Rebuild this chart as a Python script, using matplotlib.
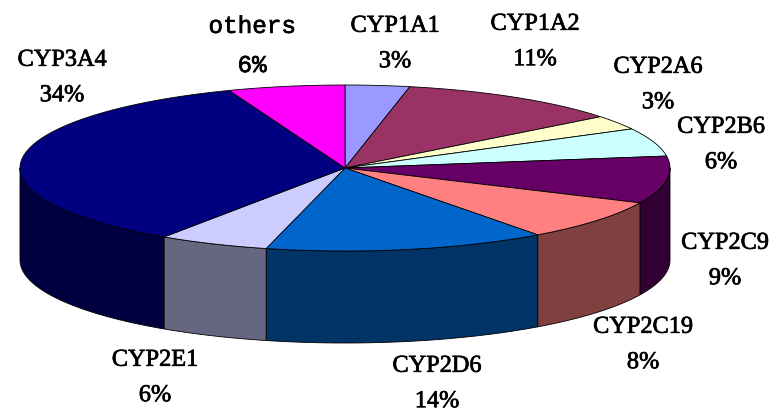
import numpy as np
import matplotlib
matplotlib.use("Agg")
import matplotlib.pyplot as plt
import matplotlib.patheffects as pe
from matplotlib.patches import Polygon

# clockwise from 12 o'clock
names = ['CYP1A1', 'CYP1A2', 'CYP2A6', 'CYP2B6', 'CYP2C9', 'CYP2C19', 'CYP2D6', 'CYP2E1', 'CYP3A4', 'others']
values = [3.2, 11.2, 2.8, 5.5, 9.2, 8.0, 14.0, 5.5, 34.8, 5.8]
labels = ['3%', '11%', '3%', '6%', '9%', '8%', '14%', '6%', '34%', '6%']
top_colors = ['#9999ff', '#993366', '#ffffcc', '#ccffff', '#660066', '#ff8080', '#0066cc', '#ccccff', '#000080', '#ff00ff']
side_colors = ['#6b6bb3', '#6b2447', '#b3b38f', '#8fb3b3', '#330033', '#804040', '#003366', '#666680', '#000040', '#b300b3']
label_x = [395, 535, 658, 721, 725, 643, 437, 155, 62, 252]
label_y = [44, 42, 85, 145, 261, 345, 384, 378, 78, 46]

cx, cy, rx, ry, depth = 345, 168, 325, 83, 92

fig = plt.figure(figsize=(7.74, 4.12), dpi=100)
ax = fig.add_axes([0, 0, 1, 1])
ax.set_xlim(0, 774)
ax.set_ylim(412, 0)
ax.axis('off')


def rim(a0, a1):
    t = np.radians(np.linspace(a0, a1, 80))
    return cx + rx * np.sin(t), cy - ry * np.cos(t)


edges = np.concatenate([[0], np.cumsum(values)]) * 360 / sum(values)

# outer walls, only the front half of the ellipse shows
for i in range(len(values)):
    a0, a1 = max(edges[i], 90), min(edges[i + 1], 270)
    if a1 <= a0:
        continue
    x, y = rim(a0, a1)
    pts = np.r_[np.c_[x, y], np.c_[x[::-1], y[::-1] + depth]]
    ax.add_patch(Polygon(pts, fc=side_colors[i], ec='black', lw=0.6))

# top face
for i in range(len(values)):
    x, y = rim(edges[i], edges[i + 1])
    pts = np.r_[[[cx, cy]], np.c_[x, y]]
    ax.add_patch(Polygon(pts, fc=top_colors[i], ec='black', lw=0.6))

for n, p, lx, ly in zip(names, labels, label_x, label_y):
    font = 'Liberation Mono' if n == 'others' else 'Liberation Serif'
    t = ax.text(lx, ly, n + '\n' + p, ha='center', va='center', fontsize=17.5,
                family=font, linespacing=1.9, color='black')
    # the source text is a heavier bitmap font
    t.set_path_effects([pe.withStroke(linewidth=0.5, foreground='black')])

fig.savefig('out.png', dpi=100)
